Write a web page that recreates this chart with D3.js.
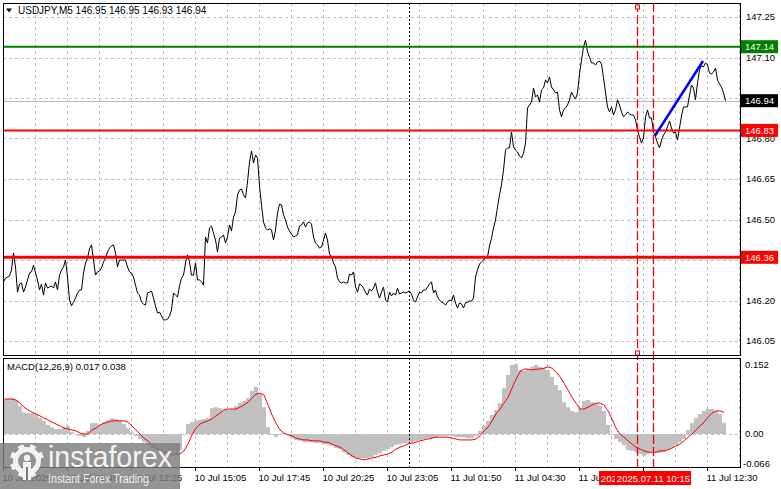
<!DOCTYPE html>
<html><head><meta charset="utf-8">
<script src="https://cdn.jsdelivr.net/npm/d3@7"></script>
<style>
body{margin:0;background:#fff}
svg{display:block}
text{font-family:"Liberation Sans",Arial,sans-serif}
</style>
</head><body>
<svg id="c" width="781" height="489"></svg>
<script>
// ---------------- DATA ----------------
const symbol = "USDJPY,M5";
const ohlc = ["146.95", "146.95", "146.93", "146.94"];
const macdTitle = "MACD(12,26,9) 0.017 0.038";

// close price per 5-minute bar
const closes = [
146.269,146.283,146.287,146.291,146.313,146.376,146.324,146.231,146.261,146.265,
146.231,146.250,146.276,146.302,146.306,146.331,146.302,146.276,146.239,146.261,
146.220,146.265,146.246,146.250,146.254,146.246,146.269,146.239,146.294,146.313,
146.324,146.350,146.287,146.202,146.180,146.194,146.209,146.228,146.239,146.239,
146.302,146.339,146.357,146.391,146.406,146.350,146.294,146.306,146.309,146.320,
146.343,146.357,146.380,146.394,146.402,146.406,146.376,146.324,146.350,146.350,
146.350,146.350,146.324,146.306,146.302,146.287,146.257,146.228,146.220,146.194,
146.187,146.183,146.228,146.231,146.235,146.209,146.180,146.154,146.157,146.143,
146.128,146.128,146.131,146.143,146.165,146.228,146.220,146.213,146.254,146.283,
146.294,146.339,146.369,146.343,146.294,146.294,146.339,146.276,146.276,146.269,
146.257,146.435,146.413,146.469,146.476,146.450,146.424,146.380,146.431,146.435,
146.443,146.413,146.435,146.480,146.457,146.509,146.528,146.591,146.609,146.613,
146.591,146.580,146.639,146.713,146.754,146.709,146.739,146.728,146.624,146.554,
146.491,146.469,146.461,146.465,146.461,146.424,146.461,146.524,146.557,146.554,
146.517,146.498,146.472,146.457,146.446,146.435,146.439,146.443,146.476,146.480,
146.491,146.472,146.487,146.491,146.483,146.435,146.413,146.406,146.394,146.398,
146.424,146.450,146.424,146.372,146.361,146.339,146.324,146.283,146.269,146.265,
146.269,146.265,146.265,146.298,146.294,146.306,146.250,146.231,146.261,146.257,
146.246,146.231,146.220,146.243,146.235,146.246,146.265,146.231,146.209,146.231,
146.250,146.202,146.194,146.231,146.217,146.228,146.220,146.246,146.224,146.228,
146.231,146.228,146.231,146.235,146.224,146.202,146.194,146.213,146.231,146.228,
146.239,146.239,146.250,146.261,146.269,146.228,146.239,146.213,146.202,146.194,
146.191,146.183,146.194,146.202,146.198,146.220,146.191,146.172,146.191,146.187,
146.172,146.191,146.194,146.198,146.198,146.209,146.287,146.313,146.335,146.343,
146.350,146.361,146.361,146.402,146.431,146.469,146.498,146.546,146.591,146.628,
146.683,146.757,146.765,146.765,146.824,146.769,146.757,146.750,146.735,146.728,
146.746,146.783,146.913,146.924,146.935,146.987,146.954,146.961,146.935,146.980,
146.987,147.017,147.006,147.028,146.991,146.980,146.969,146.972,146.906,146.880,
146.906,146.913,146.924,146.943,146.972,146.957,146.946,146.969,147.039,147.091,
147.139,147.165,147.120,147.102,147.080,147.080,147.072,147.083,147.087,147.076,
147.024,146.972,146.917,146.898,146.917,146.887,146.906,146.943,146.924,146.898,
146.880,146.887,146.898,146.891,146.887,146.887,146.869,146.831,146.806,146.783,
146.802,146.880,146.906,146.876,146.876,146.824,146.806,146.783,146.765,146.794,
146.813,146.824,146.843,146.865,146.839,146.820,146.824,146.794,146.839,146.883,
146.917,146.917,146.917,146.961,146.998,146.987,146.943,147.006,147.054,147.069,
147.065,147.080,147.072,147.043,147.039,147.046,147.061,147.017,147.002,146.991,
146.969,146.940
];

// MACD main (histogram) and signal, one value every 2 bars
const macdHist = [
.075,.077,.079,.075,.062,.048,.046,.046,.042,.035,
.029,.020,.015,.011,.011,.015,.018,.004,0,-.004,
-.007,.007,.024,.024,.020,.026,.031,.035,.033,.029,
.022,.013,.004,-.004,-.011,-.018,-.024,-.031,-.035,-.040,
-.044,-.046,-.046,-.044,-.035,-.002,.022,.026,.029,.031,
.033,.035,.057,.059,.057,.053,.053,.055,.062,.068,
.073,.079,.095,.104,.088,.059,.015,-.002,-.007,-.002,
.002,-.002,-.009,-.013,-.015,-.018,-.018,-.018,-.020,-.020,
-.022,-.024,-.026,-.031,-.033,-.040,-.046,-.051,-.053,-.053,
-.053,-.053,-.051,-.046,-.042,-.037,-.033,-.029,-.024,-.022,
-.020,-.020,-.018,-.015,-.013,-.011,-.009,-.009,-.007,-.004,
-.004,-.004,-.004,-.007,-.007,-.007,-.009,-.009,-.004,.007,
.018,.029,.042,.053,.068,.101,.130,.152,.154,.141,
.139,.143,.148,.152,.148,.145,.141,.126,.108,.097,
.070,.059,.051,.048,.057,.073,.075,.070,.068,.062,
.051,.020,-.002,-.011,-.018,-.024,-.035,-.037,-.040,-.044,
-.048,-.044,-.040,-.042,-.042,-.040,-.035,-.031,-.024,-.018,
-.011,.009,.024,.035,.044,.051,.055,.055,.051,.044,.025
];
const macdSignal = [
.077,.077,.077,.075,.068,.059,.053,.048,.044,.040,
.035,.031,.026,.022,.018,.013,.011,.009,.007,.002,
0,0,.009,.013,.020,.024,.026,.029,.029,.029,
.029,.026,.018,.009,0,-.009,-.015,-.024,-.031,-.035,
-.040,-.042,-.046,-.046,-.044,-.037,-.022,-.002,.013,.022,
.026,.029,.033,.040,.046,.053,.055,.055,.055,.059,
.064,.070,.079,.088,.090,.086,.064,.042,.024,.009,
.002,-.002,-.004,-.009,-.011,-.013,-.013,-.015,-.015,-.015,
-.018,-.018,-.022,-.026,-.029,-.035,-.042,-.048,-.053,-.055,
-.057,-.055,-.053,-.051,-.048,-.046,-.044,-.040,-.033,-.029,
-.026,-.022,-.020,-.018,-.015,-.013,-.011,-.009,-.007,-.007,
-.007,-.007,-.009,-.011,-.013,-.013,-.013,-.013,-.011,-.004,
.007,.015,.029,.044,.055,.068,.081,.101,.121,.137,
.143,.143,.141,.143,.143,.145,.148,.145,.137,.126,
.112,.097,.081,.068,.055,.055,.059,.064,.068,.068,
.064,.051,.033,.013,0,-.007,-.015,-.022,-.029,-.033,
-.037,-.040,-.040,-.040,-.037,-.037,-.035,-.031,-.026,-.022,
-.015,-.007,0,.009,.018,.026,.037,.046,.051,.051,.048
];

const priceTicks = [146.05, 146.20, 146.35, 146.50, 146.65, 146.80, 146.95, 147.10, 147.25];
const macdTicks = [0.152, 0, -0.066];
const macdTickLabels = ["0.152", "0.00", "-0.066"];
const timeBars = [0, 32, 64, 96, 128, 160, 192, 224, 256, 288, 320, 352];
const timeLabels = ["10 Jul 2025", "10 Jul 09:45", "10 Jul 12:25", "10 Jul 15:05", "10 Jul 17:45",
  "10 Jul 20:25", "10 Jul 23:05", "11 Jul 01:50", "11 Jul 04:30", "11 Jul 07:10", "11 Jul 09:50", "11 Jul 12:30"];
const levelPrices = [147.14, 146.83, 146.36];
const levelColors = ["#008000", "#ff0000", "#ff0000"];
const bidPrice = 146.94;
const markerBars = [317, 325];
const markerLabels = ["2025.07.11 09:35", "2025.07.11 10:15"];
const trendBars = [326, 350];
const trendPrices = [146.81, 147.087];
const daySepBar = 203;

// ---------------- DRAW ----------------
const svg = d3.select("#c");
const L = 3, R = 740, MT = 3, MB = 355, ST = 358, SB = 467;
const x = d3.scaleLinear().domain([0, 368.5]).range([L, R]);
const y = d3.scaleLinear().domain([146.05, 147.25]).range([341, 17]);
const ym = d3.scaleLinear().domain([-0.066, 0.152]).range([464, 365]);
const grid = "#c0c0c0";
const boxW = 76;

const defs = svg.append("defs");
defs.append("clipPath").attr("id", "cm").append("rect").attr("x", L).attr("y", MT).attr("width", R - L).attr("height", MB - MT);
defs.append("clipPath").attr("id", "cs").append("rect").attr("x", L).attr("y", ST).attr("width", R - L).attr("height", SB - ST);
// time-axis text hidden behind the red time boxes
const box0 = x(markerBars[0]) - boxW / 2, box1 = x(markerBars[1]) - boxW / 2;
defs.append("clipPath").attr("id", "ct0").append("rect").attr("x", 0).attr("y", 460).attr("width", box0).attr("height", 29);
defs.append("clipPath").attr("id", "ct1").append("rect").attr("x", 0).attr("y", 460).attr("width", box1).attr("height", 29);

const gridBars = d3.range(16, 369, 16);

// ---- main panel ----
const gm = svg.append("g").attr("clip-path", "url(#cm)");
gm.selectAll(".vg").data(gridBars).join("line")
  .attr("x1", d => Math.round(x(d)) + 0.5).attr("x2", d => Math.round(x(d)) + 0.5)
  .attr("y1", MT).attr("y2", MB).attr("stroke", grid).attr("stroke-dasharray", "3,3");
gm.selectAll(".hg").data(priceTicks).join("line")
  .attr("x1", L).attr("x2", R)
  .attr("y1", d => Math.round(y(d)) + 0.5).attr("y2", d => Math.round(y(d)) + 0.5)
  .attr("stroke", grid).attr("stroke-dasharray", "3,3");
gm.append("line").attr("x1", L).attr("x2", R)
  .attr("y1", Math.round(y(bidPrice)) + 0.5).attr("y2", Math.round(y(bidPrice)) + 0.5)
  .attr("stroke", "#b8b8b8");
gm.append("line").attr("x1", x(daySepBar) + 0.5).attr("x2", x(daySepBar) + 0.5)
  .attr("y1", MT).attr("y2", MB).attr("stroke", "#000").attr("stroke-dasharray", "2,2");

gm.append("path").datum(closes)
  .attr("d", d3.line().x((d, i) => x(i) + 0.5).y(d => y(d)))
  .attr("fill", "none").attr("stroke", "#000").attr("stroke-width", 1);

levelPrices.forEach((p, i) => {
  gm.append("line").attr("x1", L).attr("x2", R).attr("y1", y(p)).attr("y2", y(p))
    .attr("stroke", levelColors[i]).attr("stroke-width", i === 2 ? 3 : 2);
});

gm.append("line")
  .attr("x1", x(trendBars[0])).attr("y1", y(trendPrices[0]))
  .attr("x2", x(trendBars[1])).attr("y2", y(trendPrices[1]))
  .attr("stroke", "#0000ff").attr("stroke-width", 2.5);

// ---- MACD panel ----
const gs = svg.append("g").attr("clip-path", "url(#cs)");
gs.selectAll(".vg").data(gridBars).join("line")
  .attr("x1", d => Math.round(x(d)) + 0.5).attr("x2", d => Math.round(x(d)) + 0.5)
  .attr("y1", ST).attr("y2", SB).attr("stroke", grid).attr("stroke-dasharray", "3,3");
gs.selectAll(".hb").data(macdHist).join("rect")
  .attr("x", (d, k) => x(2 * k) - 1).attr("width", 4)
  .attr("y", d => Math.min(ym(0), ym(d))).attr("height", d => Math.abs(ym(d) - ym(0)))
  .attr("fill", "#c0c0c0");
gs.append("line").attr("x1", L).attr("x2", R).attr("y1", Math.round(ym(0)) + 0.5).attr("y2", Math.round(ym(0)) + 0.5)
  .attr("stroke", grid).attr("stroke-dasharray", "3,3");
gs.append("line").attr("x1", x(daySepBar) + 0.5).attr("x2", x(daySepBar) + 0.5)
  .attr("y1", ST).attr("y2", SB).attr("stroke", "#000").attr("stroke-dasharray", "2,2");
gs.append("path").datum(macdSignal)
  .attr("d", d3.line().x((d, k) => x(2 * k) + 1).y(d => ym(d)))
  .attr("fill", "none").attr("stroke", "#ff0000").attr("stroke-width", 1);

// red dashed vertical markers
markerBars.forEach(b => {
  svg.append("line").attr("x1", x(b) + 0.5).attr("x2", x(b) + 0.5).attr("y1", MT).attr("y2", SB)
    .attr("stroke", "#ff0000").attr("stroke-width", 1.3).attr("stroke-dasharray", "9,3");
});
[MT + 2, MB - 4].forEach(yy => {
  svg.append("rect").attr("x", x(markerBars[0]) - 1.5).attr("y", yy).attr("width", 4).attr("height", 4)
    .attr("fill", "#fff").attr("stroke", "#ff0000").attr("stroke-width", 1);
});

// frames
svg.append("rect").attr("x", L + 0.5).attr("y", MT + 0.5).attr("width", R - L).attr("height", MB - MT)
  .attr("fill", "none").attr("stroke", "#000");
svg.append("rect").attr("x", L + 0.5).attr("y", ST + 0.5).attr("width", R - L).attr("height", SB - ST)
  .attr("fill", "none").attr("stroke", "#000");

// right price axis
const fs = 9.5;
svg.selectAll(".pt").data(priceTicks).join("text")
  .attr("x", 746).attr("y", d => y(d)).attr("dy", "0.36em")
  .attr("font-size", fs).attr("fill", "#000").text(d => d.toFixed(2));
svg.selectAll(".mt").data(macdTicks).join("text")
  .attr("x", d => d < 0 ? 743 : 745).attr("y", d => ym(d)).attr("dy", "0.36em")
  .attr("font-size", fs).attr("fill", "#000").text((d, i) => macdTickLabels[i]);

// level price labels
const tags = [
  {p: levelPrices[0], c: levelColors[0]},
  {p: bidPrice, c: "#000"},
  {p: levelPrices[1], c: levelColors[1]},
  {p: levelPrices[2], c: levelColors[2]}
];
tags.forEach(t => {
  svg.append("rect").attr("x", 741).attr("y", y(t.p) - 6.5).attr("width", 37).attr("height", 13).attr("fill", t.c);
  svg.append("text").attr("x", 745).attr("y", y(t.p)).attr("dy", "0.36em")
    .attr("font-size", fs).attr("fill", "#fff").text(t.p.toFixed(2));
});

// time axis
svg.selectAll(".tk").data(timeBars).join("line")
  .attr("x1", d => Math.round(x(d)) + 0.5).attr("x2", d => Math.round(x(d)) + 0.5)
  .attr("y1", SB).attr("y2", SB + 4).attr("stroke", "#000");
svg.selectAll(".tl").data(timeBars).join("text")
  .attr("x", d => x(d) - 0.5).attr("y", 481)
  .attr("clip-path", d => (x(d) + 52 > box0 && x(d) < box1 + boxW) ? "url(#ct0)" : null)
  .attr("font-size", fs).attr("fill", "#000").text((d, i) => timeLabels[i]);
markerBars.forEach((b, i) => {
  svg.append("rect").attr("x", x(b) - boxW / 2).attr("y", 471).attr("width", boxW).attr("height", 14).attr("fill", "#ff0000");
  svg.append("text").attr("x", x(b) + 0.5).attr("y", 481.5).attr("text-anchor", "middle")
    .attr("clip-path", i === 0 ? "url(#ct1)" : null)
    .attr("font-size", fs).attr("fill", "#fff").text(markerLabels[i]);
});

// header texts
svg.append("path").attr("d", "M6,8.5 L12,8.5 L9,12.5 Z").attr("fill", "#000");
svg.append("text").attr("x", 18).attr("y", 14).attr("font-size", 10).attr("fill", "#000")
  .text(symbol + "  " + ohlc.join(" "));
svg.append("text").attr("x", 7).attr("y", 370).attr("font-size", fs).attr("fill", "#000").text(macdTitle);

// watermark
const wm = svg.append("g");
wm.append("rect").attr("x", 0).attr("y", 443).attr("width", 180).attr("height", 46).attr("fill", "#7c7c7c").attr("opacity", 0.82);
const gear = wm.append("g").attr("transform", "translate(27,461)").attr("fill", "#f2f2f2");
d3.range(8).forEach(i => {
  if (i === 2) return;
  gear.append("rect").attr("x", -3).attr("y", -17).attr("width", 6).attr("height", 7)
    .attr("transform", `rotate(${i * 45 + 22.5})`);
});
gear.append("circle").attr("r", 11.5).attr("fill", "none").attr("stroke", "#f2f2f2").attr("stroke-width", 5);
gear.append("circle").attr("cx", 0).attr("cy", -3).attr("r", 3.2);
gear.append("rect").attr("x", -4).attr("y", 1).attr("width", 8).attr("height", 18);
gear.append("rect").attr("x", -1).attr("y", 6).attr("width", 2).attr("height", 14).attr("fill", "#7c7c7c");
wm.append("text").attr("x", 48).attr("y", 467).attr("font-family", "'Open Sans',sans-serif").attr("font-weight", 300)
  .attr("font-size", 30).attr("fill", "#f2f2f2").attr("textLength", 124).attr("lengthAdjust", "spacingAndGlyphs").text("instaforex");
wm.append("text").attr("x", 48).attr("y", 483).attr("font-family", "'Open Sans',sans-serif")
  .attr("font-size", 12).attr("fill", "#eeeeee").attr("textLength", 101).attr("lengthAdjust", "spacingAndGlyphs").text("Instant Forex Trading");
</script>
</body></html>
